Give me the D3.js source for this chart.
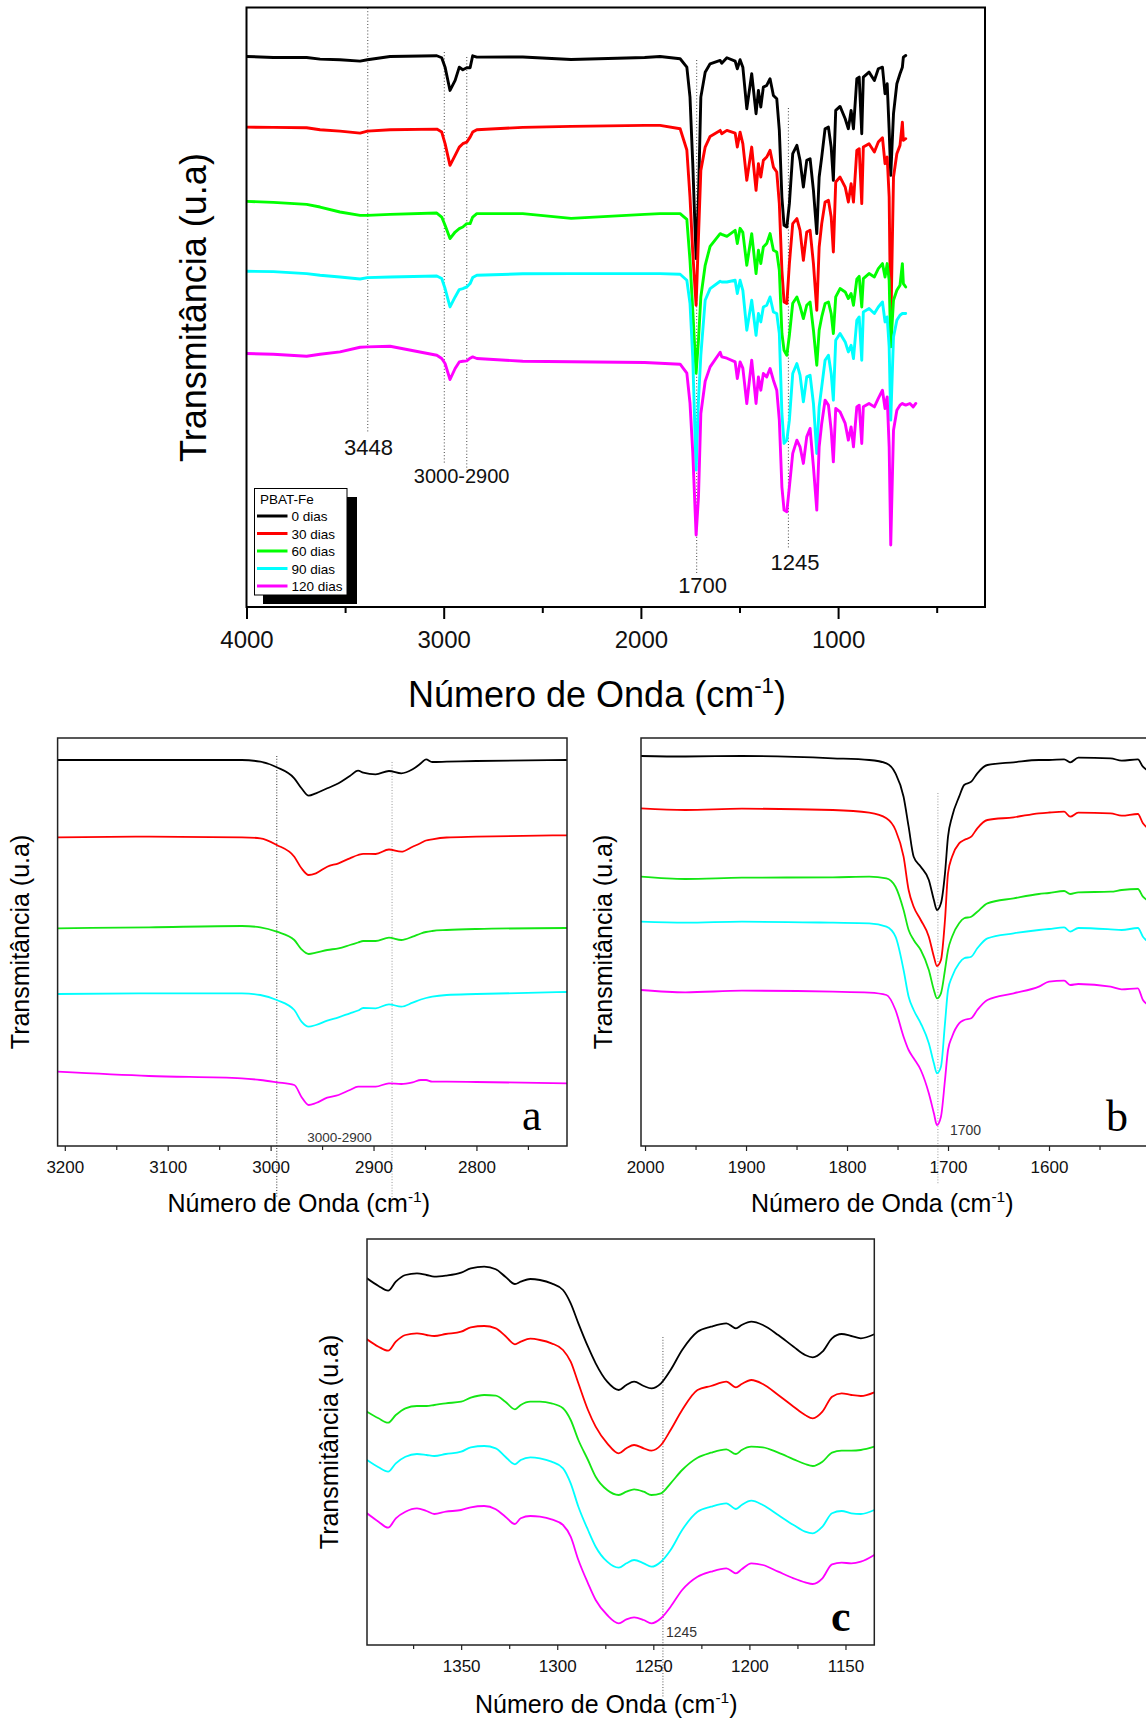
<!DOCTYPE html>
<html>
<head>
<meta charset="utf-8">
<script src="https://cdn.jsdelivr.net/npm/d3@7"></script>
<style>
  body { margin: 0; background: #fff; }
  svg { display: block; }
</style>
</head>
<body>
<svg id="chart" width="1146" height="1722"></svg>
<script>
// ---------- samples ----------
const sampleLabels = ["0 dias", "30 dias", "60 dias", "90 dias", "120 dias"];
const legendTitle = "PBAT-Fe";

// ---------- full FTIR spectra (transmittance, a.u., stacked) ----------
const fullWavenumbers = [4000, 3864, 3695, 3627, 3526, 3424, 3387, 3272, 3035, 3010,
  2993, 2968, 2942, 2921, 2903, 2883, 2866, 2853, 2832, 2599,
  2354, 1981, 1903, 1801, 1767, 1751, 1737, 1720, 1708, 1696,
  1674, 1649, 1598, 1590, 1564, 1522, 1511, 1497, 1483, 1463,
  1438, 1416, 1404, 1392, 1379, 1362, 1345, 1328, 1311, 1298,
  1285, 1274, 1260, 1247, 1230, 1209, 1193, 1176, 1159, 1142,
  1125, 1108, 1096, 1083, 1066, 1049, 1035, 1024, 1012, 990,
  964, 948, 934, 922, 905, 893, 880, 872, 843, 816,
  796, 775, 762, 751, 741, 733, 719, 702, 686, 674,
  669, 657, 636, 619, 606];
const full0 = [551, 550, 550, 548.3, 547.7, 546.3, 547.7, 551, 551.7, 549.7,
  540.3, 517, 527, 540.3, 537.7, 539.7, 539.7, 551.7, 550.3, 550.5,
  548, 550, 551, 548.7, 540.3, 510.3, 444, 348.7, 410.3, 510.3,
  535.3, 543.7, 547, 544.3, 549.7, 546.3, 538.7, 547.7, 540.3, 498.7,
  533.7, 493.7, 517, 500.3, 520.3, 522, 528.7, 512, 508.7, 477,
  410.3, 382, 380.3, 403.7, 453.7, 462, 447, 420.3, 447, 448.7,
  417, 373.7, 430.3, 450.3, 478.7, 480.3, 460.3, 427, 497, 501,
  488.7, 478.7, 497, 478.7, 528.7, 530.3, 473.7, 530.3, 535.3, 527,
  538.7, 540.3, 513.7, 523.7, 477, 432, 493.7, 523.7, 533.7, 540.3,
  550.3, 552, null, null, null];
const full30 = [480.3, 480, 479.7, 477.7, 476.3, 474.3, 476.3, 477.7, 478.3, 475.3,
  463.7, 442, 452, 460.3, 463.7, 465.3, 470.3, 475.3, 477.7, 480,
  481, 482, 482, 478.7, 457.4, 410.3, 355, 302, 370.3, 437,
  460.3, 471, 477, 473.7, 477, 474.3, 460.3, 475.3, 463.7, 427,
  460.3, 417, 443.7, 430.3, 447, 450.3, 457, 440.3, 435.3, 403.7,
  337, 305.3, 303.7, 343.7, 383.7, 388.7, 377, 347, 375.3, 377,
  343.7, 297, 360.3, 383.7, 405.3, 407, 390.3, 355.3, 425.3, 430.3,
  420.3, 405.3, 423.7, 405.3, 457, 458.7, 403.7, 460.3, 463.7, 455.3,
  465.3, 469.7, 443.7, 450.3, 410.3, 277, 430.3, 453.7, 462, 485.3,
  467, 468.7, null, null, null];
const full60 = [406, 405, 403, 400.3, 395.3, 392, 392, 393, 394.3, 390.3,
  382, 368.7, 375.3, 378.7, 380.3, 383.7, 383.7, 390.3, 393.7, 393.7,
  389, 393, 393.7, 393.7, 388, 347, 297, 234, 267, 310.3,
  342, 361, 373.7, 373, 371, 377, 363.7, 379, 375, 342,
  373.7, 333.7, 357, 343.7, 360.3, 363.7, 373.7, 357, 355.3, 337,
  274, 257, 252, 272, 304, 310.3, 301, 288.7, 302, 305.3,
  277, 242, 277, 290.3, 303.7, 305.3, 293.7, 273.7, 310.3, 318.7,
  315.3, 308.7, 313.7, 302, 328, 331, 300.3, 328.7, 333.7, 330.3,
  338.7, 343.7, 330.3, 343.7, 327, 260.3, 307, 317, 322, 343.7,
  323.7, 320.3, null, null, null];
const full90 = [336, 335.7, 333.7, 332, 330.3, 328.3, 329.7, 330.3, 331.3, 328.7,
  318.7, 300.3, 310.3, 317.7, 318.7, 320.3, 323.7, 329.7, 332, 333.5,
  333.7, 333.7, 333.7, 333, 327, 304, 250, 137, 207, 252,
  307, 318.7, 326, 325.3, 325.3, 327, 313.7, 327, 317, 277,
  307, 272, 293.7, 285.3, 300.3, 302, 310.3, 295.3, 293.7, 273.7,
  193.7, 163.7, 167, 187, 233.7, 243.7, 232, 205.3, 230.3, 232,
  203.7, 153.7, 200.3, 220.3, 247, 252, 233.7, 207, 267, 273.7,
  265.3, 255.3, 262, 248.7, 287, 290.3, 247, 295.3, 298.7, 293.7,
  300.3, 305.3, 285.3, 290.3, 260.3, 187, 270.3, 287, 292, 293.7,
  293.7, 293.7, null, null, null];
const full120 = [253.7, 253, 251, 253, 255.3, 260, 260.3, 261, 252, 248.7,
  243.7, 227.7, 238.7, 245.3, 246, 246.3, 249, 250.3, 248.7, 246,
  245.5, 244.7, 244, 243, 234, 204, 155, 72, 110, 193.7,
  226, 240.3, 255, 250.3, 249, 245.3, 228.7, 245.3, 239, 203.7,
  247, 203.7, 230.3, 217, 233.7, 230.3, 238.7, 227, 217, 187,
  120.3, 97, 95.3, 120.3, 153.7, 167, 160.3, 143.7, 170.3, 178.7,
  140.3, 97, 160.3, 183.7, 207, 202, 177, 145.3, 198.7, 195.3,
  183.7, 167, 180.3, 160.3, 200.3, 202, 163.7, 200.3, 203.7, 200.3,
  208.7, 217, 198.7, 210.3, 160.3, 62, 177, 197, 202, 203.7,
  203, 202, 203.7, 200.3, 203.7];
const fullTicks = [4000, 3000, 2000, 1000];
const fullMinorTicks = [3500, 2500, 1500, 500];
const fullMarkers = [3385, 2997, 2883, 1717, 1252];
const fullNotes = [
  { text: "3448", at: 3381 },
  { text: "3000-2900", at: 2909 },
  { text: "1700", at: 1687 },
  { text: "1245", at: 1218 }
];

// ---------- (a) C–H stretching region ----------
const aWavenumbers = [3207, 3118, 3028, 3010, 2994, 2977, 2970, 2963, 2956, 2945,
  2934, 2923, 2915, 2910, 2898, 2885, 2873, 2862, 2854, 2849,
  2843, 2829, 2800, 2712];
const a0 = [386, 386, 386, 384.3, 378.7, 367.7, 357.7, 350.3, 352.7, 357.7,
  362.7, 370, 375.3, 373.3, 371.7, 375, 372.7, 376.7, 382.7, 386.7,
  384, 384.3, 385, 386];
const a30 = [308.7, 309.3, 308.7, 307.7, 301, 289.3, 277.7, 271, 272.7, 279.3,
  282.7, 287.7, 291, 292.2, 292, 296.5, 294.3, 299.3, 303, 305.5,
  306.7, 308.5, 309.3, 310.7];
const a60 = [217.7, 218.7, 220, 218.7, 214.3, 206, 196.7, 192, 193.3, 196,
  197.7, 201, 203.5, 205, 205, 208.3, 206, 209.3, 212.5, 214,
  215, 216, 217, 218];
const a90 = [152, 152.7, 152.7, 151, 146, 136, 124.3, 119.3, 121, 125.3,
  128.7, 132.7, 135.5, 138, 137.7, 141.7, 139.3, 143.3, 146.5, 148,
  149.3, 151, 152, 154];
const a120 = [74.3, 70, 67.7, 66, 63.7, 61, 49, 41, 43, 48.3,
  51, 56, 59.3, 59.3, 59.3, 62.7, 62, 63.7, 66, 66,
  64.3, 64.3, 64, 62.7];
const aTicks = [3200, 3100, 3000, 2900, 2800];
const aMinorTicks = [3150, 3050, 2950, 2850, 2750];
const aMarkers = [2994, 2882];

// ---------- (b) carbonyl region ----------
const bWavenumbers = [2004, 1960, 1904, 1814, 1778, 1761, 1752, 1744, 1739, 1734,
  1727, 1719, 1714, 1711, 1707, 1703, 1700, 1696, 1689, 1684,
  1677, 1671, 1661, 1635, 1610, 1600, 1585, 1579, 1571, 1539,
  1528, 1512, 1507, 1504];
const b0 = [390, 389.5, 390, 387.7, 386, 382.7, 372.7, 349.3, 319.3, 289.3,
  279.3, 266, 246, 236, 242.7, 272.7, 309.3, 329.3, 349.3, 361,
  364.3, 372.7, 381, 383.7, 386, 386, 386.7, 383.7, 388.3, 387.7,
  385.3, 386.7, 379.3, 376.7];
const b30 = [337.7, 336, 337.3, 336, 333.3, 327.7, 316, 289.3, 256, 239.3,
  226, 209.3, 189.3, 180, 186, 226, 272.7, 289.3, 302.7, 306,
  309.3, 317.7, 326, 328.7, 332.7, 333.5, 334.3, 329.3, 333.3, 332.7,
  330.3, 332, 322.7, 319.3];
const b60 = [269.3, 267, 268.3, 268.7, 269.3, 267.7, 259.3, 236, 216, 206,
  196, 176, 156, 147.7, 152.7, 176, 196, 209.3, 222.7, 227.7,
  229.3, 234.3, 242.7, 247.7, 252, 253, 255, 252, 253.7, 254.3,
  256, 257, 249.3, 246.7];
const b90 = [224.3, 223.3, 224.3, 223.3, 222.7, 219.3, 209.3, 176, 149.3, 136,
  122.7, 102.7, 82.7, 72.7, 79.3, 122.7, 156, 169.3, 182.7, 187.7,
  189.3, 197.7, 207.7, 212.7, 216, 217, 218.7, 214.3, 218, 216.7,
  216, 218, 209.3, 206];
const b120 = [156, 153.7, 155.3, 154.3, 153.3, 151, 136, 109.3, 96, 87.7,
  76, 52.7, 32.7, 21, 29.3, 66, 96, 109.3, 122.7, 126,
  127.7, 136, 146, 152.7, 159.3, 164.3, 165.3, 161, 162, 159.3,
  156.7, 157.7, 146, 142.7];
const bTicks = [2000, 1900, 1800, 1700, 1600];
const bMinorTicks = [1950, 1850, 1750, 1650, 1550];
const bMarkers = [1710];

// ---------- (c) C–O stretching region ----------
const cWavenumbers = [1399, 1393, 1388, 1384, 1379, 1373, 1368, 1364, 1358, 1350,
  1345, 1338, 1332, 1327, 1322, 1319, 1314, 1309, 1303, 1297,
  1293, 1289, 1284, 1280, 1274, 1268, 1264, 1260, 1255, 1251,
  1246, 1241, 1235, 1227, 1220, 1212, 1207, 1204, 1199, 1193,
  1185, 1177, 1171, 1167, 1162, 1157, 1152, 1147, 1142, 1135];
const c0 = [366.7, 359, 354.3, 363.3, 370, 371.7, 370, 368.3, 369.3, 372.3,
  376.7, 378.3, 375.7, 368.3, 361, 363.3, 366, 365, 361.7, 355,
  341.7, 321.7, 298.3, 281.7, 263.3, 255, 260, 263.3, 259, 256.7,
  261.7, 275, 295, 313.3, 318.3, 321.7, 316.7, 320, 323.3, 320,
  310, 298.3, 290, 287.7, 293.3, 306.7, 311, 309, 306.7, 310.7];
const c30 = [305.7, 298.3, 294.3, 303.3, 310, 311.7, 310, 309, 311, 313.3,
  317.7, 319, 316.7, 309, 300.7, 303.3, 306.3, 305, 301.7, 295,
  283.3, 261.7, 235, 218.3, 201.7, 191.7, 196.7, 200, 196.7, 194.3,
  200, 215, 235, 255, 259, 263.3, 257.7, 261, 265, 261,
  250, 238.3, 230, 226.7, 233.3, 248.3, 251.7, 250, 249, 252.7];
const c60 = [233.3, 226.7, 222.3, 230, 236.7, 239, 239, 240, 241.7, 243.3,
  247.3, 250, 249.3, 243.3, 235.7, 240, 243.3, 243.3, 241.7, 236.7,
  225, 205, 185, 168.3, 155, 150, 153.3, 155.7, 153.3, 150,
  151.7, 161.7, 175, 187.3, 192.3, 195.7, 191, 195, 198.3, 197.7,
  192.3, 185.7, 181, 179, 183.3, 192.3, 194.3, 194.3, 195, 198.3];
const c90 = [185, 177.7, 173.3, 181.7, 188.3, 191, 190, 189, 191, 193.3,
  197.7, 199, 196.7, 188.3, 180.7, 185, 187.7, 186.7, 183.3, 176.7,
  161.7, 138.3, 115, 98.3, 83.3, 77.3, 81.7, 85, 81.7, 78.3,
  83.3, 95, 115, 133.3, 138.3, 141.7, 136, 140, 144.3, 140,
  130, 120, 113.3, 111.7, 118.3, 131.7, 134, 131.7, 131, 135];
const c120 = [131.7, 123.3, 117.3, 126.7, 133.3, 136.7, 134, 131, 133.3, 135,
  137.7, 139, 135.7, 128.3, 121, 126.7, 129, 128.3, 125.7, 120,
  108.3, 85, 61.7, 45, 30, 21.7, 25.7, 27.7, 25, 21.7,
  26.7, 38.3, 55, 68.3, 73.3, 76.7, 71.7, 75.7, 81.7, 80,
  73.3, 66.7, 62.7, 61, 66.7, 80.7, 82.3, 81.7, 83.3, 90];
const cTicks = [1350, 1300, 1250, 1200, 1150];
const cMinorTicks = [1375, 1325, 1275, 1225, 1175];
const cMarkers = [1245];

// ---------- styling ----------
const SANS = "'Liberation Sans', Arial, Helvetica, sans-serif";
const SERIF = "'Liberation Serif', 'Times New Roman', serif";
const fullColors = ["#000000", "#ff0000", "#00ff00", "#00ffff", "#ff00ff"];
const zoomColors = ["#000000", "#ff0000", "#14e614", "#00ffff", "#ff00ff"];
const ONDA = "Número de Onda (cm";
const TRANS = "Transmitância (u.a)";

const svg = d3.select("#chart");
let clipCount = 0;

function waveTitle(g, x, y, size, anchor) {
  const t = g.append("text").attr("x", x).attr("y", y)
    .attr("font-family", SANS).attr("font-size", size)
    .attr("text-anchor", anchor).attr("fill", "#000");
  t.append("tspan").text(ONDA);
  t.append("tspan").attr("font-size", size * 0.62).attr("dy", -size * 0.4).text("-1");
  t.append("tspan").attr("dy", size * 0.4).text(")");
}

function transTitle(g, x, y, size) {
  g.append("text")
    .attr("transform", `translate(${x},${y}) rotate(-90)`)
    .attr("text-anchor", "middle")
    .attr("font-family", SANS).attr("font-size", size).attr("fill", "#000")
    .text(TRANS);
}

function panel(p) {
  const g = svg.append("g");
  const x = d3.scaleLinear().domain(p.xDomain).range([p.left, p.right]);
  const y = d3.scaleLinear().domain(p.yDomain).range([p.bottom, p.top]);

  const id = "clip" + (clipCount++);
  svg.append("clipPath").attr("id", id).append("rect")
    .attr("x", p.left).attr("y", p.top)
    .attr("width", p.right - p.left).attr("height", p.bottom - p.top);

  // band markers (dotted verticals)
  p.markers.forEach((m, i) => {
    g.append("line")
      .attr("x1", x(m)).attr("x2", x(m))
      .attr("y1", p.markerSpan[i][0]).attr("y2", p.markerSpan[i][1])
      .attr("stroke", p.markerColor[i] || "#444")
      .attr("stroke-width", 1)
      .attr("stroke-dasharray", p.markerDash);
  });

  // spectra
  const line = d3.line()
    .defined(d => d[1] != null)
    .x(d => x(d[0])).y(d => y(d[1]))
    .curve(p.curve);
  const lines = g.append("g").attr("clip-path", `url(#${id})`);
  p.series.forEach((vals, i) => {
    lines.append("path")
      .datum(p.wavenumbers.map((w, j) => [w, vals[j]]))
      .attr("d", line)
      .attr("fill", "none")
      .attr("stroke", p.colors[i])
      .attr("stroke-width", p.lineWidth)
      .attr("stroke-linejoin", "round")
      .attr("stroke-linecap", "round");
  });

  // frame
  g.append("rect")
    .attr("x", p.left).attr("y", p.top)
    .attr("width", p.right - p.left).attr("height", p.bottom - p.top)
    .attr("fill", "none").attr("stroke", p.frameColor).attr("stroke-width", p.frameWidth);

  // bottom axis: major ticks with labels, minor ticks without
  const major = g.append("g").attr("transform", `translate(0,${p.bottom})`)
    .call(d3.axisBottom(x).tickValues(p.ticks).tickSize(p.majorLen).tickSizeOuter(0)
      .tickFormat(d3.format("d")));
  major.select(".domain").remove();
  major.selectAll(".tick line").attr("stroke", p.frameColor).attr("stroke-width", p.tickWidth);
  major.attr("font-family", SANS).attr("font-size", p.tickFont);
  major.selectAll(".tick text").attr("y", p.labelY).attr("dy", null).attr("fill", "#111");

  const minor = g.append("g").attr("transform", `translate(0,${p.bottom})`)
    .call(d3.axisBottom(x).tickValues(p.minorTicks).tickSize(p.minorLen).tickSizeOuter(0)
      .tickFormat(""));
  minor.select(".domain").remove();
  minor.selectAll(".tick line").attr("stroke", p.frameColor).attr("stroke-width", p.tickWidth);

  return { g, x, y };
}

// ===== overview spectrum =====
const full = panel({
  left: 246.5, right: 985, top: 7.5, bottom: 607,
  xDomain: [4000, 255], yDomain: [0, 600],
  wavenumbers: fullWavenumbers,
  series: [full0, full30, full60, full90, full120],
  colors: fullColors, lineWidth: 2.9, curve: d3.curveLinear,
  frameColor: "#000", frameWidth: 2,
  ticks: fullTicks, minorTicks: fullMinorTicks,
  majorLen: 12, minorLen: 6, tickWidth: 2, tickFont: 24, labelY: 41,
  markers: fullMarkers,
  markerSpan: [[8, 432], [52, 463], [57, 470], [60, 575], [108, 548]],
  markerColor: [], markerDash: "1,2.2"
});
const fullNoteY = [455, 483, 593, 570];
fullNotes.forEach((n, i) => {
  full.g.append("text")
    .attr("x", full.x(n.at)).attr("y", fullNoteY[i])
    .attr("text-anchor", "middle")
    .attr("font-family", SANS).attr("font-size", i === 1 ? 20 : 22)
    .attr("fill", "#111").text(n.text);
});
waveTitle(full.g, 597, 707, 36, "middle");
transTitle(full.g, 206, 307.5, 36);

// legend with drop shadow
const lg = full.g.append("g");
lg.append("rect").attr("x", 263).attr("y", 497).attr("width", 94).attr("height", 107).attr("fill", "#000");
lg.append("rect").attr("x", 254.5).attr("y", 488.5).attr("width", 92.5).attr("height", 106.5)
  .attr("fill", "#fff").attr("stroke", "#000").attr("stroke-width", 1);
lg.append("text").attr("x", 260).attr("y", 503.5)
  .attr("font-family", SANS).attr("font-size", 13.5).text(legendTitle);
const rows = lg.selectAll("g.row").data(sampleLabels).join("g")
  .attr("class", "row")
  .attr("transform", (d, i) => `translate(0,${516 + i * 17.5})`);
rows.append("line").attr("x1", 257).attr("x2", 287.5).attr("y1", 0).attr("y2", 0)
  .attr("stroke", (d, i) => fullColors[i]).attr("stroke-width", 3);
rows.append("text").attr("x", 291.5).attr("y", 5)
  .attr("font-family", SANS).attr("font-size", 13.5).text(d => d);

// ===== (a) 3200-2700 cm-1 =====
const pa = panel({
  left: 57.6, right: 567, top: 738, bottom: 1146,
  xDomain: [3207, 2712], yDomain: [0, 408],
  wavenumbers: aWavenumbers,
  series: [a0, a30, a60, a90, a120],
  colors: zoomColors, lineWidth: 1.8, curve: d3.curveMonotoneX,
  frameColor: "#222", frameWidth: 1.5,
  ticks: aTicks, minorTicks: aMinorTicks,
  majorLen: 5, minorLen: 4, tickWidth: 1.2, tickFont: 17, labelY: 27,
  markers: aMarkers, markerSpan: [[756, 1198], [762, 1210]],
  markerColor: ["#333", "#999"], markerDash: "1,1.8"
});
pa.g.append("text").attr("x", pa.x(2933)).attr("y", 1142).attr("text-anchor", "middle")
  .attr("font-family", SANS).attr("font-size", 13.5).attr("fill", "#333").text("3000-2900");
pa.g.append("text").attr("x", 522).attr("y", 1130)
  .attr("font-family", SERIF).attr("font-size", 44).text("a");
waveTitle(pa.g, 167.5, 1212, 25, "start");
transTitle(pa.g, 29, 942, 25);

// ===== (b) 2000-1500 cm-1 =====
const pb = panel({
  left: 641, right: 1150, top: 738, bottom: 1146,
  xDomain: [2004, 1500], yDomain: [0, 408],
  wavenumbers: bWavenumbers,
  series: [b0, b30, b60, b90, b120],
  colors: zoomColors, lineWidth: 1.8, curve: d3.curveMonotoneX,
  frameColor: "#222", frameWidth: 1.5,
  ticks: bTicks, minorTicks: bMinorTicks,
  majorLen: 5, minorLen: 4, tickWidth: 1.2, tickFont: 17, labelY: 27,
  markers: bMarkers, markerSpan: [[793, 1185]],
  markerColor: ["#999"], markerDash: "1,1.8"
});
pb.g.append("text").attr("x", 950).attr("y", 1135)
  .attr("font-family", SANS).attr("font-size", 14).attr("fill", "#333").text("1700");
pb.g.append("text").attr("x", 1106).attr("y", 1131)
  .attr("font-family", SERIF).attr("font-size", 44).text("b");
waveTitle(pb.g, 751, 1212, 25, "start");
transTitle(pb.g, 612, 942, 25);

// ===== (c) 1400-1135 cm-1 =====
const pc = panel({
  left: 367, right: 874.3, top: 1239, bottom: 1645,
  xDomain: [1399, 1135], yDomain: [0, 406],
  wavenumbers: cWavenumbers,
  series: [c0, c30, c60, c90, c120],
  colors: zoomColors, lineWidth: 1.8, curve: d3.curveMonotoneX,
  frameColor: "#222", frameWidth: 1.5,
  ticks: cTicks, minorTicks: cMinorTicks,
  majorLen: 5, minorLen: 4, tickWidth: 1.2, tickFont: 17, labelY: 27,
  markers: cMarkers, markerSpan: [[1337, 1697]],
  markerColor: ["#555"], markerDash: "1,1.8"
});
pc.g.append("text").attr("x", 666).attr("y", 1637)
  .attr("font-family", SANS).attr("font-size", 14).attr("fill", "#333").text("1245");
pc.g.append("text").attr("x", 831).attr("y", 1631)
  .attr("font-family", SERIF).attr("font-size", 44).attr("font-weight", "bold").text("c");
waveTitle(pc.g, 475, 1713, 25, "start");
transTitle(pc.g, 337.5, 1442, 25);
</script>
</body>
</html>
